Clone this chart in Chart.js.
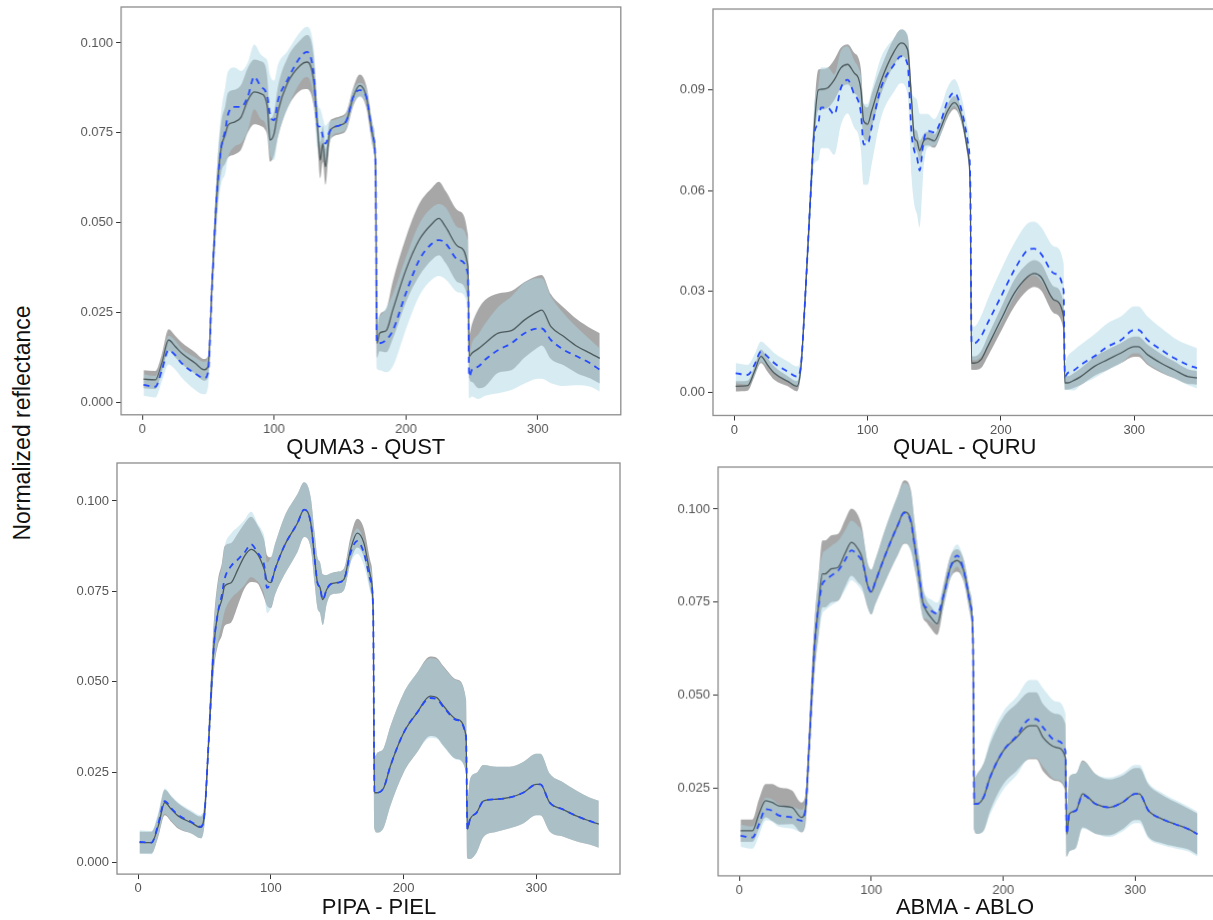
<!DOCTYPE html>
<html>
<head>
<meta charset="utf-8">
<title>Normalized reflectance by species pair</title>
<script src="https://cdn.jsdelivr.net/npm/chart.js@4.4.1/dist/chart.umd.min.js"></script>
<style>
  html, body { margin: 0; padding: 0; background: #ffffff; overflow: hidden; width: 1213px; height: 920px; }
  .panel { position: absolute; }
  .panel-title { position: absolute; font-family: "Liberation Sans", Arial, sans-serif; font-size: 22px; line-height: 22px; color: #111; white-space: nowrap; transform: translateX(-50%); }
  #ylab { position: absolute; left: 21.7px; top: 422.5px; font-family: "Liberation Sans", Arial, sans-serif; font-size: 23px; color: #111; white-space: nowrap; transform: translate(-50%, -50%) rotate(-90deg); }
</style>
</head>
<body>
<div id="ylab">Normalized reflectance</div>
<script>
// Spectral band index shared by every panel
const band = [1,10,15,20,25,30,40,47,50,53,
  57,60,63,65,70,75,80,85,90,93,
  95,97,100,103,110,120,125,130,133,135,
  137,139,142,145,150,155,160,165,170,175,
  177,178,180,185,190,200,210,220,225,230,
  240,247,248,250,255,260,270,280,290,300,
  303,310,320,330,340,347];

// QUMA3 (grey) vs QUST (blue)
const quma3Mean = [.0065,.0063,.011,.0174,.0156,.0137,.011,.0091,.010,.033,
  .060,.071,.0745,.0771,.078,.0794,.084,.0864,.0859,.085,
  .082,.073,.0748,.081,.0887,.0938,.0947,.0896,.0767,.0674,
  .072,.0656,.0748,.0765,.0771,.0785,.085,.0882,.085,.074,
  .0656,.0165,.0193,.020,.0257,.0369,.0452,.0498,.0512,.0489,
  .0433,.0378,.0128,.0137,.015,.0165,.0193,.020,.023,.0253,
  .0257,.0211,.0183,.0156,.0137,.0123];
const quma3Sd = [.0025,.0025,.0025,.003,.003,.003,.003,.003,.003,.004,
  .006,.007,.008,.009,.009,.009,.009,.009,.009,.009,
  .008,.006,.006,.007,.007,.007,.0075,.007,.005,.005,
  .005,.005,.003,.0025,.0025,.0025,.0025,.003,.003,.003,
  .003,.004,.005,.006,.008,.009,.01,.01,.0102,.01,
  .01,.009,.006,.008,.011,.012,.011,.011,.0105,.01,
  .0098,.009,.008,.0075,.007,.007];
const qustMean = [.0049,.0044,.009,.0146,.0132,.0109,.0081,.0068,.0085,.033,
  .060,.071,.0757,.080,.0822,.0822,.085,.0906,.0878,.0869,
  .085,.080,.0785,.084,.0896,.0961,.0975,.0915,.077,.0767,
  .074,.072,.0753,.0765,.0771,.0785,.085,.0869,.085,.074,
  .0656,.0165,.0165,.0174,.020,.0304,.0396,.0443,.0452,.0443,
  .0396,.0359,.0072,.0091,.010,.0119,.0146,.0165,.0193,.0206,
  .0206,.0174,.0146,.0128,.0109,.0091];
const qustSd = [.003,.003,.003,.004,.004,.004,.0045,.0045,.004,.004,
  .007,.01,.012,.012,.011,.01,.0095,.009,.009,.009,
  .01,.011,.011,.01,.008,.007,.007,.007,.006,.005,
  .005,.005,.003,.002,.002,.002,.002,.002,.002,.003,
  .004,.007,.0075,.009,.01,.01,.01,.01,.01,.01,
  .009,.009,.006,.0074,.009,.01,.012,.013,.014,.014,
  .014,.012,.01,.008,.0065,.006];

// QUAL (grey) vs QURU (blue)
const qualMean = [.0017,.0019,.006,.0106,.008,.0056,.0032,.0017,.0076,.027,
  .057,.079,.090,.0902,.0906,.093,.0966,.0976,.095,.0936,
  .090,.0808,.0798,.0837,.0926,.1015,.104,.102,.0867,.0758,
  .0748,.0719,.0748,.0755,.0748,.0788,.0837,.0862,.0827,.0719,
  .060,.0086,.0086,.0096,.0135,.0215,.0294,.0343,.0353,.0343,
  .0274,.0224,.0027,.0027,.0035,.0046,.0076,.0096,.0116,.0135,
  .0135,.0111,.0086,.0066,.0046,.0042];
const qualSd = [.0015,.0015,.0015,.002,.002,.002,.0015,.0015,.002,.003,
  .004,.005,.006,.006,.006,.006,.006,.006,.006,.006,
  .006,.005,.005,.005,.004,.004,.004,.004,.004,.003,
  .003,.003,.002,.002,.002,.002,.002,.002,.002,.002,
  .003,.002,.002,.0025,.003,.0035,.004,.004,.004,.004,
  .004,.004,.002,.002,.0022,.0025,.0028,.003,.003,.003,
  .003,.003,.0028,.0025,.0022,.002];
const quruMean = [.0056,.0051,.008,.012,.0105,.0086,.0061,.0046,.008,.027,
  .057,.077,.080,.0847,.0847,.0827,.0906,.093,.0887,.0867,
  .083,.0738,.0738,.0788,.0906,.0976,.100,.0976,.0768,.0719,
  .070,.066,.0748,.0778,.0773,.0808,.0867,.0892,.0847,.0748,
  .063,.0145,.0145,.0165,.0205,.0284,.0363,.0422,.0427,.0412,
  .0353,.0303,.0046,.0056,.0065,.0081,.0106,.0135,.0155,.0185,
  .0185,.0155,.0126,.0101,.0081,.0071];
const quruSd = [.003,.003,.003,.003,.003,.003,.003,.003,.003,.004,
  .006,.009,.011,.012,.012,.012,.011,.01,.01,.01,
  .011,.012,.012,.011,.009,.008,.008,.009,.013,.016,
  .017,.017,.008,.005,.004,.004,.004,.004,.004,.004,
  .005,.005,.005,.006,.007,.008,.008,.008,.008,.008,
  .008,.008,.004,.005,.006,.006,.0065,.007,.007,.007,
  .007,.007,.0065,.006,.006,.006];

// PIPA (grey) vs PIEL (blue)
const pipaMean = [.0055,.0055,.010,.0166,.0147,.0129,.011,.0097,.0138,.033,
  .060,.069,.0727,.0764,.0774,.081,.0847,.0866,.0852,.083,
  .081,.078,.0774,.081,.0875,.0939,.0976,.0939,.0838,.0774,
  .076,.0727,.0755,.077,.0774,.0783,.0866,.0911,.0884,.0792,
  .070,.0193,.0193,.0207,.0267,.0359,.0414,.046,.0456,.0433,
  .0396,.035,.0092,.012,.0138,.017,.0175,.018,.0193,.0216,
  .0216,.0166,.0147,.0129,.0115,.0106];
const pipaSd = [.003,.003,.003,.0035,.0035,.0035,.003,.003,.003,.004,
  .007,.009,.01,.011,.011,.01,.009,.009,.008,.008,
  .008,.007,.007,.007,.008,.008,.0076,.007,.007,.007,
  .007,.007,.004,.003,.003,.003,.0035,.004,.004,.004,
  .005,.01,.011,.011,.011,.011,.011,.011,.011,.011,
  .011,.01,.008,.011,.011,.01,.009,.0085,.0085,.0085,
  .0085,.008,.0075,.007,.0065,.0065];
const pielMean = [.0057,.0055,.0105,.017,.015,.0132,.0112,.0099,.0138,.033,
  .060,.069,.074,.0783,.082,.0838,.0857,.088,.0857,.084,
  .082,.076,.0774,.081,.0875,.0939,.0976,.0939,.0838,.0774,
  .076,.0727,.0755,.077,.0774,.0783,.0857,.0889,.0857,.078,
  .070,.0193,.0193,.0207,.0267,.0359,.0414,.0455,.0452,.043,
  .0394,.0348,.0092,.012,.0138,.017,.0175,.018,.0193,.0216,
  .0216,.0166,.0147,.0129,.0115,.0106];
const pielSd = [.0032,.0032,.0032,.0035,.0035,.0035,.0032,.0032,.003,.004,
  .006,.008,.008,.009,.009,.009,.009,.009,.008,.008,
  .008,.007,.007,.007,.008,.008,.0076,.007,.007,.007,
  .007,.007,.004,.003,.003,.003,.003,.0035,.0035,.0035,
  .005,.01,.011,.011,.011,.011,.011,.011,.011,.011,
  .011,.01,.008,.011,.011,.01,.009,.0085,.0085,.0085,
  .0085,.008,.0075,.007,.0065,.0065];

// ABMA (grey) vs ABLO (blue)
const abmaMean = [.0136,.0136,.0181,.0217,.0212,.0203,.0199,.0172,.019,.0369,
  .0629,.0737,.0826,.0826,.084,.0844,.088,.0911,.0893,.087,
  .0835,.0799,.0777,.0804,.0871,.0956,.0992,.097,.0898,.085,
  .0799,.075,.0725,.071,.0692,.0772,.0844,.0862,.0835,.0745,
  .0656,.0208,.0208,.0226,.028,.0351,.0387,.0418,.0418,.0387,
  .036,.0333,.0127,.0181,.019,.0235,.0208,.0199,.0212,.0235,
  .0235,.019,.0168,.0154,.0141,.0127];
const abmaSd = [.003,.003,.004,.0045,.005,.005,.0045,.004,.004,.005,
  .007,.008,.009,.009,.009,.009,.009,.009,.009,.008,
  .007,.006,.006,.006,.007,.008,.0085,.008,.006,.005,
  .005,.004,.003,.003,.003,.003,.003,.003,.003,.003,
  .004,.007,.008,.009,.009,.009,.009,.009,.009,.009,
  .009,.009,.006,.01,.01,.009,.008,.0075,.0072,.007,
  .007,.007,.0065,.006,.0055,.0055];
const abloMean = [.0123,.0118,.0154,.0194,.019,.0177,.0172,.0163,.019,.0369,
  .0629,.0737,.0799,.0808,.0822,.0835,.0862,.0889,.0875,.086,
  .0835,.0799,.0777,.0804,.0871,.0956,.099,.0965,.0898,.085,
  .0799,.075,.0735,.0728,.0719,.0772,.0844,.0875,.0835,.0745,
  .0656,.0208,.0208,.0226,.028,.0351,.039,.0436,.0436,.0414,
  .0378,.0351,.0127,.0181,.019,.0232,.0208,.0199,.0212,.0235,
  .0235,.019,.0168,.0154,.0141,.0127];
const abloSd = [.003,.003,.003,.003,.003,.003,.003,.003,.003,.004,
  .006,.008,.008,.008,.008,.008,.008,.008,.008,.008,
  .007,.006,.006,.006,.007,.008,.008,.008,.006,.005,
  .005,.004,.003,.003,.003,.003,.003,.003,.003,.003,
  .004,.007,.008,.009,.01,.0105,.0105,.0105,.0105,.0105,
  .0105,.01,.006,.01,.01,.009,.008,.008,.0078,.0078,
  .0078,.0075,.007,.0065,.006,.006];

// Tick labels
const xTickLabels = ['0', '100', '200', '300'];
const yTicksQuma = ['0.000', '0.025', '0.050', '0.075', '0.100'];
const yTicksQual = ['0.00', '0.03', '0.06', '0.09'];
const yTicksPipa = ['0.000', '0.025', '0.050', '0.075', '0.100'];
const yTicksAbma = ['0.025', '0.050', '0.075', '0.100'];

// Panel titles
const pairTitles = ['QUMA3 - QUST', 'QUAL - QURU', 'PIPA - PIEL', 'ABMA - ABLO'];

// Page geometry of each plotting box and axis limits
const X_RANGE = [-16, 363];
const panels = [
  { title: pairTitles[0], box: { l: 121, t: 6.7, r: 619.8, b: 414.5 }, yRange: [-0.0034, 0.110], yTicks: yTicksQuma,
    titleAt: [365.8, 436.3], grey: [quma3Mean, quma3Sd], blue: [qustMean, qustSd] },
  { title: pairTitles[1], box: { l: 713.3, t: 9, r: 1218.5, b: 414.5 }, yRange: [-0.007, 0.1141], yTicks: yTicksQual,
    titleAt: [964.8, 436.3], grey: [qualMean, qualSd], blue: [quruMean, quruSd] },
  { title: pairTitles[2], box: { l: 116.7, t: 463.3, r: 619.7, b: 874.4 }, yRange: [-0.0032, 0.1105], yTicks: yTicksPipa,
    titleAt: [379, 895.8], grey: [pipaMean, pipaSd], blue: [pielMean, pielSd] },
  { title: pairTitles[3], box: { l: 718.2, t: 466.7, r: 1217.7, b: 874.6 }, yRange: [0.0015, 0.1113], yTicks: yTicksAbma,
    titleAt: [965, 895.8], grey: [abmaMean, abmaSd], blue: [abloMean, abloSd] }
];

Chart.defaults.font.family = '"Liberation Sans", Arial, sans-serif';
Chart.defaults.animation = false;

const Y_AXIS_W = 60, X_AXIS_H = 30, PAD = 4;
const GREY_FILL = 'rgba(122,122,122,0.66)';
const GREY_LINE = '#4c5a5c';
const BLUE_FILL = 'rgba(173,216,230,0.5)';
const BLUE_LINE = '#2449ff';
const TICK_TEXT = '#555555';

// Outline of the plotting region, drawn over the data
const frame = {
  id: 'frame',
  afterDatasetsDraw(chart) {
    const { ctx, chartArea: a } = chart;
    ctx.save();
    ctx.strokeStyle = '#8c8c8c';
    ctx.lineWidth = 1.3;
    ctx.strokeRect(a.left, a.top, a.right - a.left, a.bottom - a.top);
    ctx.restore();
  }
};

const points = (ys) => band.map((x, i) => ({ x, y: ys[i] }));
const upper = (m, s) => band.map((x, i) => ({ x, y: m[i] + s[i] }));
const lower = (m, s) => band.map((x, i) => ({ x, y: m[i] - s[i] }));

// Fixed axis sizes so the plotting box lands where the layout says
const fixAxis = (size, key) => (s) => {
  s[key] = size;
  s.paddingTop = 0; s.paddingBottom = 0; s.paddingLeft = 0; s.paddingRight = 0;
};

panels.forEach((p) => {
  const wrap = document.createElement('div');
  wrap.className = 'panel';
  const w = (p.box.r - p.box.l) + Y_AXIS_W + PAD;
  const h = (p.box.b - p.box.t) + PAD + X_AXIS_H;
  wrap.style.left = (p.box.l - Y_AXIS_W) + 'px';
  wrap.style.top = (p.box.t - PAD) + 'px';
  wrap.style.width = w + 'px';
  wrap.style.height = h + 'px';
  const canvas = document.createElement('canvas');
  wrap.appendChild(canvas);
  document.body.appendChild(wrap);

  const title = document.createElement('div');
  title.className = 'panel-title';
  title.textContent = p.title;
  title.style.left = p.titleAt[0] + 'px';
  title.style.top = p.titleAt[1] + 'px';
  document.body.appendChild(title);

  const [gm, gs] = p.grey;
  const [bm, bs] = p.blue;
  const smooth = { pointRadius: 0, pointHoverRadius: 0, cubicInterpolationMode: 'monotone' };
  const line = { ...smooth, fill: false };
  const ribbon = { ...smooth, borderWidth: 0, borderColor: 'rgba(0,0,0,0)' };

  new Chart(canvas, {
    type: 'line',
    data: {
      datasets: [
        { ...line, data: points(bm), borderColor: BLUE_LINE, borderWidth: 1.8, borderDash: [6, 5], order: 0 },
        { ...line, data: points(gm), borderColor: GREY_LINE, borderWidth: 1.3, order: 1 },
        { ...ribbon, data: upper(bm, bs), fill: 3, backgroundColor: BLUE_FILL, order: 2 },
        { ...ribbon, data: lower(bm, bs), fill: false, order: 3 },
        { ...ribbon, data: upper(gm, gs), fill: 5, backgroundColor: GREY_FILL, order: 4 },
        { ...ribbon, data: lower(gm, gs), fill: false, order: 5 }
      ]
    },
    options: {
      responsive: true,
      maintainAspectRatio: false,
      devicePixelRatio: 1,
      layout: { padding: { top: PAD, right: PAD, left: 0, bottom: 0 } },
      plugins: { legend: { display: false }, tooltip: { enabled: false } },
      events: [],
      scales: {
        x: {
          type: 'linear',
          min: X_RANGE[0], max: X_RANGE[1],
          border: { display: false },
          grid: { drawOnChartArea: false, drawTicks: true, tickLength: 5, color: '#333333', lineWidth: 1 },
          ticks: { autoSkip: false, maxRotation: 0, padding: 2, color: TICK_TEXT, font: { size: 13 },
                   callback: (v, i) => xTickLabels[i] },
          afterBuildTicks: (s) => { s.ticks = xTickLabels.map(l => ({ value: parseFloat(l) })); },
          afterFit: fixAxis(X_AXIS_H, 'height')
        },
        y: {
          type: 'linear',
          min: p.yRange[0], max: p.yRange[1],
          border: { display: false },
          grid: { drawOnChartArea: false, drawTicks: true, tickLength: 5, color: '#333333', lineWidth: 1 },
          ticks: { autoSkip: false, padding: 3, color: TICK_TEXT, font: { size: 13 },
                   callback: (v, i) => p.yTicks[i] },
          afterBuildTicks: (s) => { s.ticks = p.yTicks.map(l => ({ value: parseFloat(l) })); },
          afterFit: fixAxis(Y_AXIS_W, 'width')
        }
      }
    },
    plugins: [frame]
  });
});
</script>
</body>
</html>
